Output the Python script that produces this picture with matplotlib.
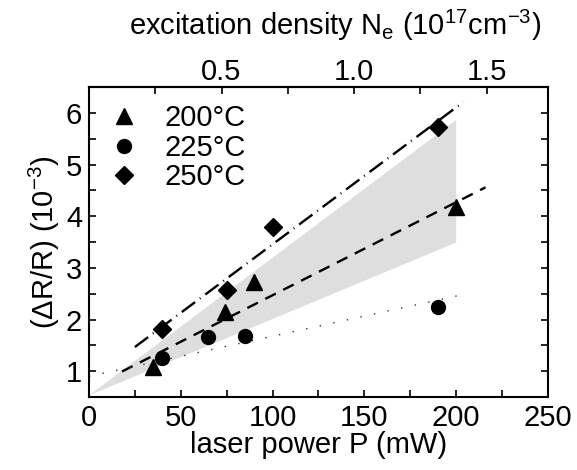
import matplotlib
matplotlib.use("Agg")
import matplotlib.pyplot as plt
import numpy as np

plt.rcParams["font.family"] = ["Liberation Sans", "DejaVu Sans"]
plt.rcParams["mathtext.fontset"] = "custom"
plt.rcParams["mathtext.rm"] = "Liberation Sans"
plt.rcParams["mathtext.it"] = "Liberation Sans"

# data points (laser power mW, dR/R in 1e-3)
p_200 = [35, 74, 90, 200]
r_200 = [1.08, 2.14, 2.72, 4.18]
p_225 = [40, 65, 85, 190]
r_225 = [1.26, 1.66, 1.68, 2.24]
p_250 = [40, 75, 100, 190]
r_250 = [1.81, 2.57, 3.79, 5.73]

# linear fits: (start, end, intercept, slope)
fit_200 = (18, 216, 0.67, 0.018)
fit_225 = (0, 206, 0.90, 0.00777)
fit_250 = (25, 204, 0.805, 0.0265)

# shaded band corners
band_p = [0, 200, 200]
band_r = [0.53, 5.86, 3.49]

MW_PER_NE = 144.4  # mW per 1e17 cm^-3

FS = 21


def line(fit):
    x = np.array([fit[0], fit[1]])
    return x, fit[2] + fit[3] * x


fig = plt.figure(figsize=(5.77, 4.70), dpi=100)
ax = fig.add_axes([0.1542, 0.1553, 0.7955, 0.6596])

ax.fill(band_p, band_r, color="#dedede", lw=0, zorder=1)

x, y = line(fit_250)
ax.plot(x, y, color="black", lw=1.7, dashes=(7, 2.5, 0.4, 2.5), zorder=2)
x, y = line(fit_200)
ax.plot(x, y, color="black", lw=1.7, dashes=(5, 3.5), zorder=2)
x, y = line(fit_225)
ax.plot(x, y, color="#333333", lw=1.0, dashes=(1, 9), zorder=2)

ax.plot(p_200, r_200, "^", color="black", ms=12, ls="none", label="200°C", zorder=3)
ax.plot(p_225, r_225, "o", color="black", ms=10, ls="none", label="225°C", zorder=3)
ax.plot(p_250, r_250, "D", color="black", ms=9.5, ls="none", label="250°C", zorder=3)

ax.set_xlim(0, 250)
ax.set_ylim(0.5, 6.5)
ax.set_xticks([0, 50, 100, 150, 200, 250])
ax.set_xticks(np.arange(25, 250, 50), minor=True)
ax.set_yticks([1, 2, 3, 4, 5, 6])
ax.set_yticks(np.arange(1.5, 6.5, 1.0), minor=True)
ax.tick_params(which="both", direction="in", length=5, width=1.2, labelsize=FS,
               top=False, right=True, pad=5)
for s in ax.spines.values():
    s.set_linewidth(1.5)

ax.set_xlabel("laser power P (mW)", fontsize=FS, labelpad=-1)
ax.set_ylabel(r"($\Delta$R/R) (10$^{-3}$)", fontsize=FS, labelpad=3)

top = ax.secondary_xaxis("top", functions=(lambda p: p / MW_PER_NE, lambda n: n * MW_PER_NE))
top.set_xticks([0.5, 1.0, 1.5])
top.set_xticks([0.25, 0.75, 1.25], minor=True)
top.set_xticklabels(["0.5", "1.0", "1.5"])
top.tick_params(which="both", direction="in", length=5, width=1.2, labelsize=FS, pad=1)
top.spines["top"].set_linewidth(1.5)
top.set_xlabel(r"excitation density N$_{\mathrm{e}}$ (10$^{17}$cm$^{-3}$)", fontsize=FS, labelpad=16)
top.xaxis.label.set_x(0.535)

leg = ax.legend(loc="upper left", frameon=False, fontsize=FS, handletextpad=0.8,
                borderaxespad=0.2, labelspacing=0.05, handlelength=1.2)

fig.savefig("out.png", dpi=100)
